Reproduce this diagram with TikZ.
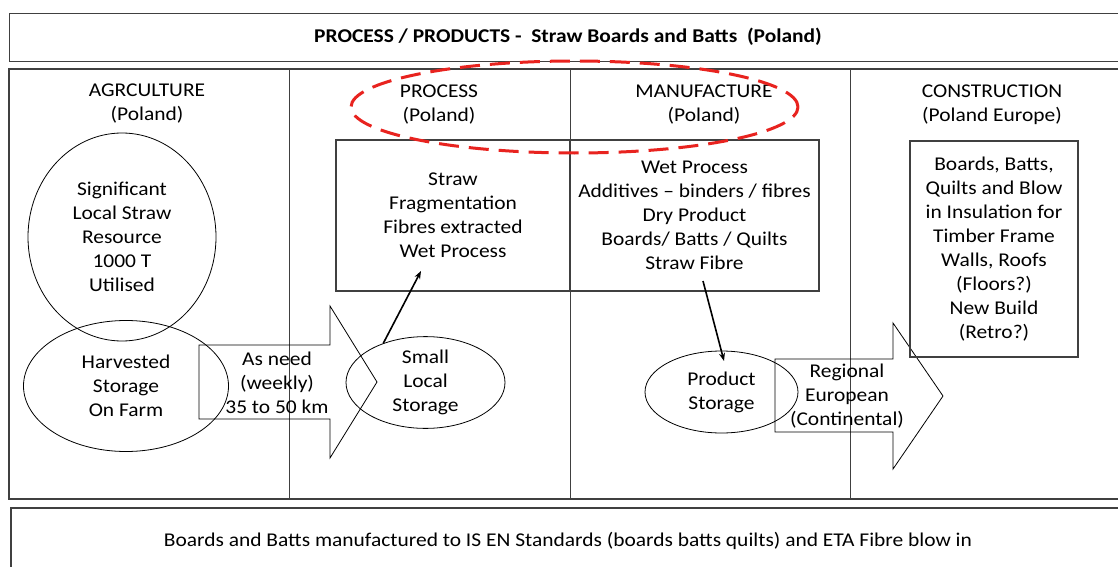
\documentclass[tikz,border=0pt]{standalone}
\usepackage{fontspec}
\setmainfont[FakeStretch=1.1]{Carlito}
\usetikzlibrary{shapes.geometric,arrows.meta}
\definecolor{boxgray}{HTML}{404040}
\definecolor{redline}{HTML}{E8231F}
\begin{document}
\begin{tikzpicture}[x=1pt,y=-1pt,
  txt/.style={font=\fontsize{19.5}{24}\selectfont, align=center, inner sep=0pt},
  frame/.style={draw=boxgray, line width=1.1pt},
  oval/.style={draw=black, line width=0.8pt, ellipse, inner sep=0pt, txt},
  rbox/.style={draw=boxgray, line width=1.1pt, rectangle, inner sep=0pt, txt},
  blockarrow/.style={draw=black, line width=0.8pt, line join=miter},
  conn/.style={draw=black, line width=1.6pt, -{Stealth[length=8pt,width=6pt]}}]
\useasboundingbox (0,0) rectangle (1118,567);
% title
\node[frame, rectangle, minimum width=1130, minimum height=48, anchor=north west, inner sep=0] (title) at (9,13) {};
\node[font=\fontsize{19.5}{23}\selectfont\bfseries, inner sep=0] (titletxt) at (568,37) {PROCESS / PRODUCTS -\ \ Straw Boards and Batts\ \ (Poland)};
% main frame
\draw[frame] (1130,69) -- (9,69) -- (9,499) -- (1130,499);
\draw[line width=0.8pt, boxgray] (289,69) -- (289,499);
\draw[line width=0.8pt, boxgray] (570,69) -- (570,499);
\draw[line width=0.8pt, boxgray] (850,69) -- (850,499);
% bottom
\draw[frame] (1130,508) -- (11,508) -- (11,580);
\node[font=\fontsize{19.5}{22}\selectfont, inner sep=0] (foot) at (568,541) {Boards and Batts manufactured to IS EN Standards (boards batts quilts) and ETA Fibre blow in};
% headings
\node[txt] (h1) at (147,104) {AGRCULTURE\\(Poland)};
\node[txt] (h2) at (439,105) {PROCESS\\(Poland)};
\node[txt] (h3) at (704,105) {MANUFACTURE\\(Poland)};
\node[txt] (h4) at (992,105) {CONSTRUCTION\\(Poland Europe)};
% agriculture
\node[oval, minimum width=188, minimum height=208] (res) at (122,237) {Significant\\Local Straw\\Resource\\1000 T\\Utilised};
\node[oval, minimum width=205, minimum height=131] (farm) at (126,386) {Harvested\\Storage\\On Farm};
% block arrow 1
\draw[blockarrow] (199,345) -- (330,345) -- (330,306) -- (377,382) -- (330,458) -- (330,419) -- (199,419) -- cycle;
\node[txt] (a1txt) at (277,383) {As need\\(weekly)\\35 to 50 km};
% process
\node[oval, minimum width=159, minimum height=79] (ss) at (425.5,382.5) {Small\\Local\\Storage};
\node[rbox, minimum width=234, minimum height=151] (proc) at (453,215.5) {Straw\\Fragmentation\\Fibres extracted\\Wet Process};
\node[rbox, minimum width=249, minimum height=151] (manu) at (694.5,215.5) {Wet Process\\Additives – binders / fibres\\Dry Product\\Boards/ Batts / Quilts\\Straw Fibre};
\coordinate (procin) at (421,271);
\draw[conn] (ss.137) -- (procin);
% manufacture
\node[oval, minimum width=153, minimum height=82] (ps) at (721.5,392) {Product\\Storage};
\coordinate (manout) at (703,281);
\coordinate (psin) at (724,361);
\draw[conn] (manout) -- (psin);
% block arrow 2
\draw[blockarrow] (775,359) -- (893,359) -- (893,323) -- (943,396) -- (893,469) -- (893,432) -- (775,432) -- cycle;
\node[txt] (a2txt) at (847,396) {Regional\\European\\(Continental)};
% construction
\node[rbox, minimum width=168, minimum height=216] (cons) at (994,249) {Boards, Batts,\\Quilts and Blow\\in Insulation for\\Timber Frame\\Walls, Roofs\\(Floors?)\\New Build\\(Retro?)};
% red dashed ellipse
\node[draw=redline, line width=3pt, dash pattern=on 20pt off 10pt, ellipse, minimum width=447, minimum height=92, inner sep=0] (hl) at (574.5,107) {};
\end{tikzpicture}
\end{document}
